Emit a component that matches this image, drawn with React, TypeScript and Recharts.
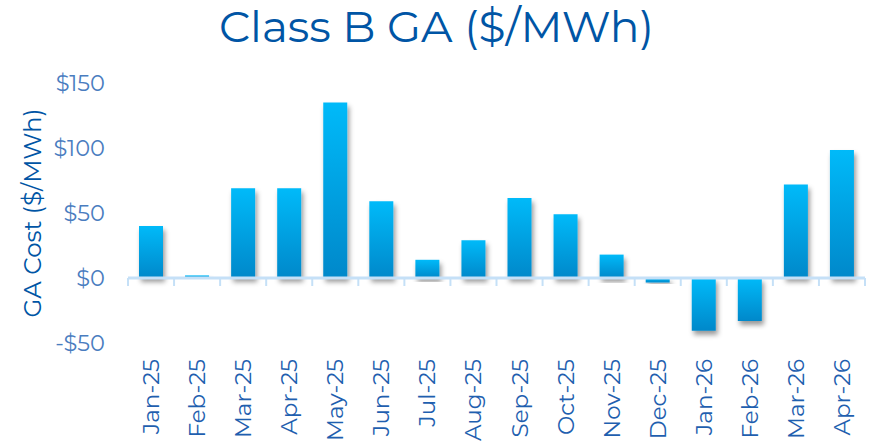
import { FC } from "react";
import { BarChart, Bar, XAxis, YAxis, ReferenceLine } from "recharts";

const months = [
  "Jan-25", "Feb-25", "Mar-25", "Apr-25", "May-25", "Jun-25", "Jul-25", "Aug-25",
  "Sep-25", "Oct-25", "Nov-25", "Dec-25", "Jan-26", "Feb-26", "Mar-26", "Apr-26",
];
const gaCost = [40, 2, 69, 69, 135, 59, 14, 29, 61.5, 49, 18, -3.5, -40.5, -33, 72, 98.5];
const yTicks = [-50, 0, 50, 100, 150];

const data = months.map((m, i) => ({ month: m, value: gaCost[i] }));

const font = "Montserrat, 'Open Sans', sans-serif";

const MonthTick: FC<any> = ({ x, y, payload }) => (
  <text
    x={x}
    y={y + 8}
    transform={`rotate(-90, ${x}, ${y + 8})`}
    textAnchor="end"
    dominantBaseline="central"
    fill="#1F5FAF"
    fontSize={23}
    fontFamily={font}
  >
    {payload.value}
  </text>
);

const fmtDollar = (v: number) => (v < 0 ? `-$${Math.abs(v)}` : `$${v}`);

// zero line with small ticks between the months
const ZeroAxis: FC<any> = ({ x1, y1, x2 }) => {
  const n = months.length;
  const step = (x2 - x1) / n;
  const ticks = Array.from({ length: n + 1 }, (_, i) => x1 + i * step);
  return (
    <g>
      <line x1={x1} y1={y1} x2={x2} y2={y1} stroke="#C5E0F7" strokeWidth={3} />
      {ticks.map((tx, i) => (
        <line key={i} x1={tx} y1={y1} x2={tx} y2={y1 + 8} stroke="#C5E0F7" strokeWidth={2} />
      ))}
    </g>
  );
};

export default function App() {
  return (
    <div style={{ position: "absolute", left: 0, top: 0, width: 873, height: 441, background: "#fff" }}>
      <div
        style={{
          position: "absolute",
          top: 0,
          left: 0,
          width: 873,
          textAlign: "center",
          fontFamily: font,
          fontSize: 44,
          lineHeight: "52px",
          color: "#0055A5",
        }}
      >
        Class B GA ($/MWh)
      </div>
      <BarChart
        width={873}
        height={441}
        data={data}
        margin={{ top: 83, right: 8, bottom: 0, left: 0 }}
        barSize={24}
      >
        <defs>
          <linearGradient id="barGrad" x1="0" y1="0" x2="0" y2="1">
            <stop offset="0%" stopColor="#00BAF9" />
            <stop offset="100%" stopColor="#0088CA" />
          </linearGradient>
          <filter id="barShadow" x="-30%" y="-10%" width="160%" height="130%">
            <feDropShadow dx="2" dy="4" stdDeviation="2.5" floodColor="#000" floodOpacity="0.4" />
          </filter>
        </defs>
        <XAxis
          dataKey="month"
          height={98}
          axisLine={false}
          tickLine={false}
          interval={0}
          tick={<MonthTick />}
        />
        <YAxis
          width={128}
          domain={[-50, 150]}
          ticks={yTicks}
          axisLine={false}
          tickLine={false}
          tickSize={0}
          tickMargin={23}
          tickFormatter={fmtDollar}
          tick={{ fill: "#4A7DBF", fontSize: 22.5, fontFamily: font }}
          label={{
            value: "GA Cost ($/MWh)",
            angle: -90,
            position: "insideLeft",
            offset: 32,
            fill: "#0055A5",
            fontSize: 24.5,
            fontFamily: font,
            style: { textAnchor: "middle" },
          }}
        />
        <Bar
          dataKey="value"
          fill="url(#barGrad)"
          filter="url(#barShadow)"
          isAnimationActive={false}
        />
        <ReferenceLine y={0} shape={<ZeroAxis />} />
      </BarChart>
    </div>
  );
}
